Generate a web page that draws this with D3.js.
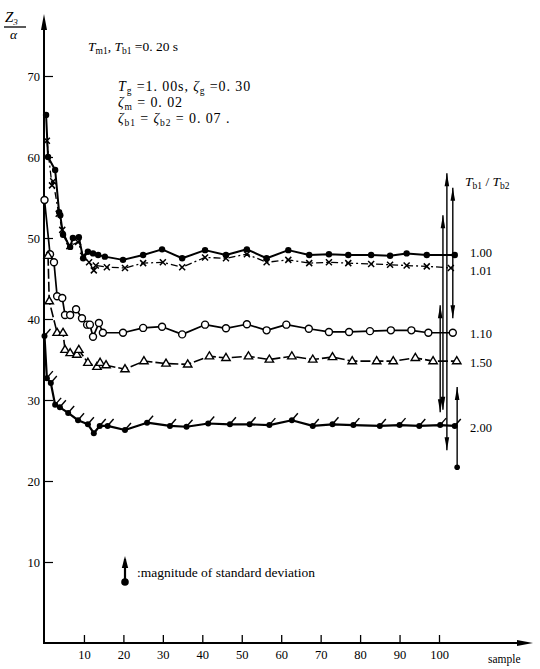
<!DOCTYPE html>
<meta charset="utf-8" />
<html>
<style>
  body { margin: 0; background: #fff; }
  svg { font-family: "Liberation Serif", "DejaVu Serif", serif; }
  .lbl { font-size: 13.5px; fill: #000; }
  .wide { font-size: 14px; letter-spacing: 0.9px; }
</style>
<body>
<svg width="540" height="669"></svg>
<script src="https://cdn.jsdelivr.net/npm/d3@7"></script>
<script>
  // tick labels
  var xTicks = [10, 20, 30, 40, 50, 60, 70, 80, 90, 100];
  var yTicks = [10, 20, 30, 40, 50, 60, 70];

  // T_b1 / T_b2 ratios, one per curve
  var ratios = ["1.00", "1.01", "1.10", "1.50", "2.00"];

  // [sample, Z3/alpha]
  var s100 = [[0.4,65.2],[0.9,60.0],[2.7,58.4],[3.7,53.2],[4.0,52.8],[4.7,50.4],[6.5,48.9],[7.2,50.0],
    [8.7,50.1],[9.8,47.5],[11.0,48.3],[12.3,48.1],[13.6,47.9],[15.3,47.7],[19.9,47.3],[25,47.9],
    [29.8,48.6],[34.9,47.5],[40.7,48.5],[46,47.9],[51.3,48.6],[56.3,47.5],[61.8,48.5],[67.1,47.9],
    [72.1,48.0],[77,47.9],[82.8,47.9],[87.6,47.8],[91.8,48.1],[96.9,47.9],[104,47.9]];
  var s101 = [[0.6,62.0],[1.9,56.5],[2.2,57.0],[3.6,53.0],[4.5,51.0],[6.3,49.0],[8.5,49.5],[9.8,47.8],
    [11.3,47.0],[12.5,46.0],[13.0,46.6],[15.8,46.4],[20.4,46.3],[25,46.9],[30,47.0],[34.9,46.4],
    [40.7,47.6],[46,47.5],[51.3,48.0],[56.3,47.0],[61.8,47.3],[67.1,46.9],[72.1,47.0],[77,46.9],
    [82.8,46.8],[87.6,46.7],[91.8,46.6],[96.9,46.5],[103,46.3]];
  var s110 = [[0,54.7],[1.4,48.0],[2.4,47.0],[3.2,42.8],[4.5,42.6],[5.2,40.5],[6.5,40.5],[8.0,41.2],
    [9.5,40.1],[10.8,39.3],[11.5,39.3],[12.3,37.8],[13.8,39.5],[14.8,38.3],[19.9,38.3],[25,38.9],
    [29.8,39.05],[34.9,38.1],[40.7,39.3],[46,38.85],[51.3,39.35],[56.3,38.6],[61.3,39.3],[67,38.8],
    [72.1,38.4],[77.2,38.4],[82.5,38.5],[87.8,38.6],[93,38.6],[97.3,38.3],[103.5,38.3]];
  var s150 = [[0.9,47.8],[1.2,42.2],[3.2,38.3],[4.7,38.3],[5.2,36.2],[6.5,35.8],[8.2,35.6],[8.7,36.2],
    [11.0,34.6],[13.3,34.1],[14.1,34.6],[15.6,34.3],[20.4,33.8],[25.2,34.8],[30.8,34.5],[36.3,34.4],
    [41.8,35.4],[46,35.2],[51.7,35.4],[57,35.0],[62.7,35.4],[68,35.0],[73,35.3],[78,34.8],
    [84.2,34.8],[88.4,34.8],[94,35.2],[98.5,34.8],[104.5,34.8]];
  var s200 = [[0,37.9],[0.6,32.7],[1.6,32.1],[2.7,29.4],[3.9,29.1],[6,28.4],[8.5,27.5],[11,27.0],
    [12.5,25.9],[14,26.8],[16,26.8],[20.4,26.3],[26,27.2],[31.8,26.8],[36,26.7],[41.5,27.1],
    [47,27.0],[52,27.0],[57,26.9],[62.7,27.5],[68,26.8],[73,27.0],[78.3,26.9],[85,26.8],
    [90,26.9],[95,26.8],[100.3,26.9],[104,26.8]];

  // standard deviation bars at the end: [sample, top, bottom]
  var sdBars = [[103.5,56.2,40.1],[102,58.0,23.8],[101,52.8,28.8],[100.3,41.7,28.5],[104.6,31.6,21.7]];

  var svg = d3.select("svg");

  var x = d3.scaleLinear().domain([0, 100]).range([44.5, 439]);
  var y = d3.scaleLinear().domain([0, 70]).range([643, 76]);

  // filled arrow head, tip at (tx,ty), pointing up (dir=-1) or down (dir=1)
  function vHead(tx, ty, dir, len, w) {
    return "M" + tx + "," + ty + "L" + (tx - w) + "," + (ty - dir * len) + "L" + (tx + w) + "," + (ty - dir * len) + "Z";
  }

  // axes
  var xAxis = svg.append("g")
    .attr("transform", "translate(0,643)")
    .call(d3.axisBottom(x).tickValues(xTicks).tickSize(-8).tickPadding(7));
  xAxis.select(".domain").remove();
  xAxis.attr("font-family", null).attr("font-size", 12.5);
  xAxis.selectAll("line").attr("stroke-width", 1.3);

  var yAxis = svg.append("g")
    .attr("transform", "translate(44,0)")
    .call(d3.axisLeft(y).tickValues(yTicks).tickSize(-9).tickPadding(4));
  yAxis.select(".domain").remove();
  yAxis.attr("font-family", null).attr("font-size", 12.5);
  yAxis.selectAll("line").attr("stroke-width", 1.2);

  svg.append("line").attr("x1", 44).attr("x2", 44).attr("y1", 644).attr("y2", 24)
    .attr("stroke", "#000").attr("stroke-width", 2);
  svg.append("path").attr("d", vHead(44, 14, -1, 16, 3)).attr("fill", "#000");
  svg.append("line").attr("x1", 43).attr("x2", 522).attr("y1", 643).attr("y2", 643)
    .attr("stroke", "#000").attr("stroke-width", 2);
  svg.append("path").attr("d", "M533,643L517,640L517,646Z").attr("fill", "#000");

  // axis titles
  var yt = svg.append("g").attr("class", "lbl").attr("font-style", "italic");
  yt.append("text").attr("x", 5).attr("y", 22).style("font-size", "15px").text("Z")
    .append("tspan").attr("font-size", 9).attr("dy", 3).text("3");
  yt.append("line").attr("x1", 4).attr("x2", 26).attr("y1", 27).attr("y2", 27)
    .attr("stroke", "#000").attr("stroke-width", 1.3);
  yt.append("text").attr("x", 10).attr("y", 39).text("α");
  svg.append("text").attr("class", "lbl").attr("x", 488).attr("y", 663)
    .style("font-size", "11.5px").text("sample");

  // rich text helper: parts = [text, kind], kind "i" italic, "s" subscript, "" plain
  function rich(px, py, parts, cls) {
    var t = svg.append("text").attr("class", "lbl " + (cls || "")).attr("x", px).attr("y", py);
    var shift = 0;
    parts.forEach(function (p) {
      var sp = t.append("tspan").text(p[0]);
      if (p[1] === "i") sp.attr("font-style", "italic");
      if (p[1] === "s") {
        sp.attr("font-size", 9.5).attr("dy", 3 - shift); shift = 3;
      } else if (shift) {
        sp.attr("dy", -shift); shift = 0;
      }
    });
    return t;
  }

  rich(88, 51, [["T","i"],["m1","s"],[", ",""],["T","i"],["b1","s"],[" =0. 20 s",""]]);
  rich(118, 91, [["T","i"],["g","s"],[" =1. 00s, ",""],["ζ","i"],["g","s"],[" =0. 30",""]], "wide");
  rich(118, 107, [["ζ","i"],["m","s"],[" = 0. 02",""]], "wide");
  rich(118, 123, [["ζ","i"],["b1","s"],[" = ",""],["ζ","i"],["b2","s"],[" = 0. 07  .",""]], "wide");
  rich(465, 186, [["T","i"],["b1","s"],[" / ",""],["T","i"],["b2","s"]]);

  // curves
  var series = [
    { data: s100, marker: "dot", dash: null, w: 2 },
    { data: s101, marker: "x", dash: "7,3,2,3", w: 1.3 },
    { data: s110, marker: "circle", dash: null, w: 1.7 },
    { data: s150, marker: "tri", dash: "10,3", w: 1.6 },
    { data: s200, marker: "flag", dash: null, w: 2.2 }
  ];
  // vertical nudge of each ratio label from its curve's last point
  var labelNudge = [2, 7, 5, 6, 6];

  var line = d3.line().x(function (d) { return x(d[0]); }).y(function (d) { return y(d[1]); });

  series.forEach(function (s) {
    svg.append("path").attr("d", line(s.data)).attr("fill", "none")
      .attr("stroke", "#000").attr("stroke-width", s.w)
      .attr("stroke-dasharray", s.dash).attr("stroke-linejoin", "round");
  });

  series.forEach(function (s) {
    var g = svg.append("g");
    s.data.forEach(function (d) {
      var px = x(d[0]), py = y(d[1]);
      var m = g.append("g").attr("transform", "translate(" + px + "," + py + ")");
      if (s.marker === "dot") {
        m.append("circle").attr("r", 3.2).attr("fill", "#000");
      } else if (s.marker === "x") {
        m.append("path").attr("d", "M-3,-3L3,3M-3,3L3,-3").attr("stroke", "#000").attr("stroke-width", 1.5);
      } else if (s.marker === "circle") {
        m.append("circle").attr("r", 3.5).attr("fill", "#fff").attr("stroke", "#000").attr("stroke-width", 1.4);
      } else if (s.marker === "tri") {
        m.append("path").attr("d", "M0,-4.5L4.2,2.6L-4.2,2.6Z").attr("fill", "#fff")
          .attr("stroke", "#000").attr("stroke-width", 1.4);
      } else if (s.marker === "flag") {
        m.append("circle").attr("r", 3).attr("fill", "#000");
        m.append("path").attr("d", "M-1,1L6,-7").attr("stroke", "#000").attr("stroke-width", 1.4);
      }
    });
  });

  // ratio labels at the right, next to each curve's last value
  series.forEach(function (s, i) {
    var last = s.data[s.data.length - 1];
    svg.append("text").attr("class", "lbl").style("font-size", "12.5px")
      .attr("x", 470).attr("y", y(last[1]) + labelNudge[i]).text(ratios[i]);
  });

  // standard deviation bars
  sdBars.forEach(function (b, i) {
    var bx = x(b[0]), t = y(b[1]), bt = y(b[2]);
    svg.append("line").attr("x1", bx).attr("x2", bx).attr("y1", t).attr("y2", bt)
      .attr("stroke", "#000").attr("stroke-width", 1.4);
    svg.append("path").attr("d", vHead(bx, t, -1, 13, 2.3)).attr("fill", "#000");
    if (i === sdBars.length - 1) {
      svg.append("circle").attr("cx", bx).attr("cy", bt).attr("r", 2.8).attr("fill", "#000");
    } else {
      svg.append("path").attr("d", vHead(bx, bt, 1, 13, 2.3)).attr("fill", "#000");
    }
  });

  // legend for standard deviation
  svg.append("line").attr("x1", 125).attr("x2", 125).attr("y1", 559).attr("y2", 582)
    .attr("stroke", "#000").attr("stroke-width", 2.2);
  svg.append("path").attr("d", vHead(125, 556, -1, 12, 3.2)).attr("fill", "#000");
  svg.append("circle").attr("cx", 125).attr("cy", 582).attr("r", 3.8).attr("fill", "#000");
  svg.append("text").attr("class", "lbl").attr("x", 137).attr("y", 577)
    .text(":magnitude of standard deviation");
</script>
</body>
</html>
